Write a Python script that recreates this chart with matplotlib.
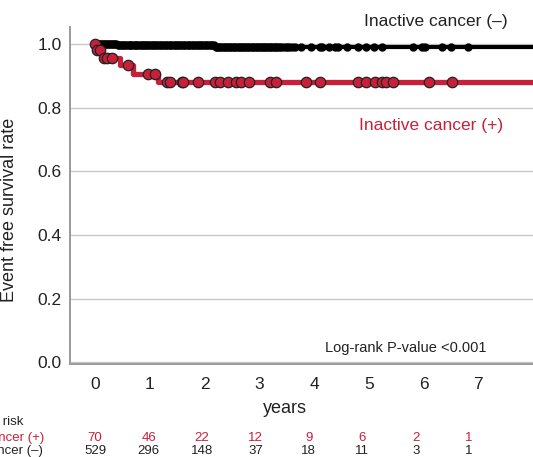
"""Kaplan-Meier style event free survival, inactive cancer (+) vs (-)."""

import matplotlib

matplotlib.use("Agg")
import matplotlib.pyplot as plt
import numpy as np

plt.rcParams["font.family"] = ["Liberation Sans", "DejaVu Sans"]

# --- data ---
pos_step_times = [0.0, 0.02, 0.12, 0.45, 0.70, 1.15]
pos_step_surv = [1.0, 0.982, 0.957, 0.934, 0.907, 0.879]
pos_censor = [0.0, 0.04, 0.08, 0.16, 0.22, 0.30, 0.60, 0.96, 1.10, 1.31,
              1.37, 1.58, 1.61, 1.88, 2.19, 2.28, 2.43, 2.58, 2.67, 2.82,
              3.19, 3.30, 3.85, 4.10, 4.81, 4.95, 5.12, 5.24, 5.32, 5.45,
              6.10, 6.52]

neg_step_times = [0.0, 0.40, 1.30, 2.20]
neg_step_surv = [1.0, 0.998, 0.995, 0.990]
neg_censor = [0.04, 0.06, 0.09, 0.11, 0.14, 0.17, 0.19, 0.22, 0.25, 0.27,
              0.30, 0.33, 0.36, 0.38, 0.41, 0.44, 0.47, 0.49, 0.52, 0.55,
              0.58, 0.61, 0.63, 0.66, 0.69, 0.72, 0.75, 0.77, 0.80, 0.83,
              0.86, 0.89, 0.91, 0.94, 0.97, 1.00, 1.03, 1.06, 1.09, 1.12,
              1.15, 1.18, 1.21, 1.24, 1.27, 1.30, 1.33, 1.36, 1.39, 1.42,
              1.45, 1.48, 1.51, 1.54, 1.57, 1.60, 1.63, 1.66, 1.69, 1.72,
              1.75, 1.78, 1.81, 1.84, 1.87, 1.90, 1.93, 1.96, 1.99, 2.02,
              2.05, 2.08, 2.11, 2.14, 2.17, 2.20, 2.23, 2.26, 2.29, 2.32,
              2.35, 2.38, 2.41, 2.44, 2.47, 2.50, 2.53, 2.56, 2.59, 2.62,
              2.65, 2.68, 2.71, 2.74, 2.77, 2.80, 2.83, 2.86, 2.89, 2.92,
              2.95, 2.98, 3.01, 3.04, 3.07, 3.10, 3.13, 3.16, 3.19, 3.22,
              3.25, 3.28, 3.31, 3.34, 3.38, 3.42, 3.46, 3.50, 3.55, 3.60,
              3.66, 3.77, 3.95, 4.11, 4.15, 4.28, 4.39, 4.44, 4.61, 4.81,
              4.95, 5.10, 5.25, 5.81, 5.97, 6.03, 6.34, 6.50, 6.81]

years = [0, 1, 2, 3, 4, 5, 6, 7]
at_risk_pos = [70, 46, 22, 12, 9, 6, 2, 1]
at_risk_neg = [529, 296, 148, 37, 18, 11, 3, 1]

RED = "#c8203a"
GREY = "#9a9a9a"
X_MAX = 8.0


def step_value(times, surv, t):
    idx = np.searchsorted(times, t, side="right") - 1
    return np.asarray(surv)[idx]


fig = plt.figure(figsize=(5.33, 4.57), dpi=100)
ax = fig.add_axes([0.1313, 0.2035, 0.8687, 0.7374])

# Inactive cancer (-)
ax.plot(neg_step_times + [X_MAX], neg_step_surv + [neg_step_surv[-1]],
        drawstyle="steps-post", color="black", lw=3.0, zorder=3)
ax.plot(neg_censor, step_value(neg_step_times, neg_step_surv, neg_censor),
        "o", ms=5.0, mfc="black", mec="black", zorder=4)

# Inactive cancer (+)
ax.plot(pos_step_times + [X_MAX], pos_step_surv + [pos_step_surv[-1]],
        drawstyle="steps-post", color=RED, lw=3.8, zorder=5)
ax.plot(pos_censor, step_value(pos_step_times, pos_step_surv, pos_censor),
        "o", ms=7.5, mfc=RED, mec="#222222", mew=0.9, zorder=6)

ax.set_xlim(-0.46, X_MAX)
ax.set_ylim(-0.005, 1.053)
ax.set_xticks(years)
ax.set_yticks([0.0, 0.2, 0.4, 0.6, 0.8, 1.0])
ax.set_yticklabels(["0.0", "0.2", "0.4", "0.6", "0.8", "1.0"])
ax.tick_params(axis="both", length=0, labelsize=12.5, colors="#222222")
ax.tick_params(axis="x", pad=9)
ax.tick_params(axis="y", pad=6)
ax.yaxis.grid(True, color="#c8c8c8", lw=1.0)
ax.set_axisbelow(True)
for side in ("top", "right"):
    ax.spines[side].set_visible(False)
for side in ("left", "bottom"):
    ax.spines[side].set_color(GREY)
    ax.spines[side].set_linewidth(1.4)

ax.set_ylabel("Event free survival rate", fontsize=13, color="#222222")
ax.yaxis.set_label_coords(-0.112, 0.457)
ax.set_xlabel("years", fontsize=13, color="#222222")
ax.xaxis.set_label_coords(0.464, -0.106)

ax.text(6.23, 1.069, "Inactive cancer (–)", fontsize=12.5, ha="center",
        va="center", color="#222222", clip_on=False)
ax.text(6.14, 0.745, "Inactive cancer (+)", fontsize=12.5, ha="center",
        va="center", color=RED)
ax.text(5.68, 0.044, "Log-rank P-value <0.001", fontsize=10.5,
        ha="center", va="center", color="#222222")

# number at risk table (left labels are cut by the figure edge, as in the source)
tr = ax.get_xaxis_transform()
col_scale = 0.976
ax.text(-1.31, -0.172, "No. at risk", fontsize=9.5, ha="right", va="center",
        color="#222222", transform=tr, clip_on=False)
ax.text(-0.93, -0.2196, "Inactive cancer (+)", fontsize=9.5, ha="right",
        va="center", color=RED, transform=tr, clip_on=False)
ax.text(-0.96, -0.258, "Inactive cancer (–)", fontsize=9.5, ha="right",
        va="center", color="#222222", transform=tr, clip_on=False)
for yr, n_pos, n_neg in zip(years, at_risk_pos, at_risk_neg):
    ax.text(yr * col_scale, -0.2196, str(n_pos), fontsize=9.5, ha="center",
            va="center", color=RED, transform=tr, clip_on=False)
    ax.text(yr * col_scale, -0.258, str(n_neg), fontsize=9.5, ha="center",
            va="center", color="#222222", transform=tr, clip_on=False)

fig.savefig("out.png", dpi=100)
